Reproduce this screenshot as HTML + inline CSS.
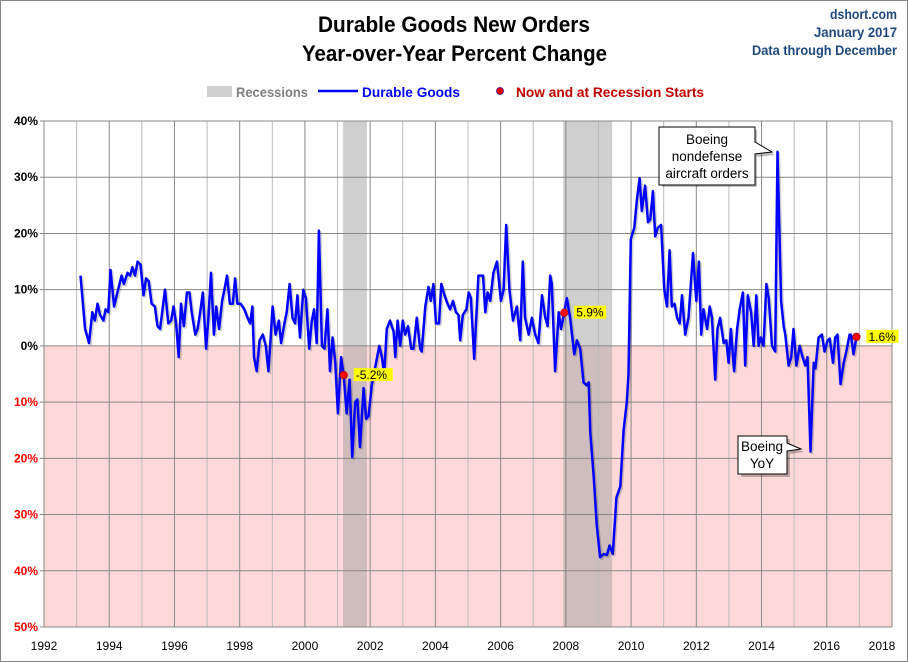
<!DOCTYPE html>
<html><head><meta charset="utf-8"><style>
body{margin:0;background:#fff;}
svg{display:block;font-family:"Liberation Sans Narrow","Liberation Sans",sans-serif;}
</style></head><body>
<svg id="chart" width="908" height="662" viewBox="0 0 908 662">
<rect x="0.5" y="0.5" width="907" height="661" fill="#fff" stroke="#888"/>
<g id="pink"></g>
<g id="rec"></g>
<g id="grid"></g>
<g id="series"></g>
<g id="axes"></g>
<text x="318" y="32" textLength="272" lengthAdjust="spacingAndGlyphs" font-size="22" font-weight="bold">Durable Goods New Orders</text>
<text x="302" y="61" textLength="305" lengthAdjust="spacingAndGlyphs" font-size="22" font-weight="bold">Year-over-Year Percent Change</text>
<g font-size="13.5" font-weight="bold" fill="#1F497D">
<text x="830" y="19" textLength="67" lengthAdjust="spacingAndGlyphs">dshort.com</text>
<text x="814" y="37" textLength="83" lengthAdjust="spacingAndGlyphs">January 2017</text>
<text x="752" y="55" textLength="145" lengthAdjust="spacingAndGlyphs">Data through December</text>
</g>
<g font-size="14" font-weight="bold">
<rect x="207" y="86" width="25" height="11" fill="#D0D0D0"/>
<text x="236" y="97" textLength="72" lengthAdjust="spacingAndGlyphs" fill="#808080">Recessions</text>
<line x1="318" y1="91" x2="358" y2="91" stroke="#0000FF" stroke-width="2.5"/>
<text x="362" y="97" textLength="98" lengthAdjust="spacingAndGlyphs" fill="#0000FF">Durable Goods</text>
<circle cx="500" cy="91" r="3.5" fill="#E00000" stroke="#400080" stroke-width="0.8"/>
<text x="516" y="97" textLength="188" lengthAdjust="spacingAndGlyphs" fill="#C00000">Now and at Recession Starts</text>
</g>
<g id="notes"></g>
</svg>
<script>
const years = [1993.12,1993.26,1993.38,1993.48,1993.56,1993.64,1993.72,1993.82,1993.89,1993.97,1994.04,1994.15,1994.25,1994.38,1994.45,1994.56,1994.64,1994.71,1994.79,1994.87,1994.96,1995.05,1995.13,1995.21,1995.30,1995.40,1995.48,1995.56,1995.71,1995.81,1995.90,1995.97,1996.05,1996.13,1996.20,1996.29,1996.38,1996.46,1996.53,1996.64,1996.71,1996.79,1996.87,1996.97,1997.04,1997.12,1997.21,1997.28,1997.37,1997.46,1997.53,1997.61,1997.70,1997.79,1997.86,1997.93,1998.03,1998.14,1998.24,1998.32,1998.39,1998.44,1998.52,1998.61,1998.71,1998.80,1998.88,1998.95,1999.01,1999.10,1999.20,1999.27,1999.37,1999.44,1999.53,1999.62,1999.70,1999.77,1999.85,1999.95,2000.03,2000.13,2000.21,2000.28,2000.36,2000.43,2000.52,2000.60,2000.69,2000.77,2000.85,2000.93,2001.01,2001.11,2001.19,2001.28,2001.37,2001.45,2001.54,2001.61,2001.69,2001.80,2001.88,2001.95,2002.05,2002.15,2002.28,2002.36,2002.43,2002.51,2002.61,2002.72,2002.77,2002.84,2002.92,2003.00,2003.07,2003.16,2003.26,2003.33,2003.43,2003.53,2003.58,2003.69,2003.79,2003.86,2003.94,2004.02,2004.11,2004.18,2004.28,2004.37,2004.45,2004.54,2004.63,2004.71,2004.76,2004.84,2004.95,2005.02,2005.09,2005.19,2005.32,2005.46,2005.53,2005.60,2005.68,2005.78,2005.89,2006.01,2006.09,2006.17,2006.27,2006.38,2006.50,2006.60,2006.68,2006.75,2006.86,2006.96,2007.06,2007.16,2007.27,2007.37,2007.44,2007.52,2007.57,2007.67,2007.78,2007.85,2007.95,2008.03,2008.13,2008.26,2008.34,2008.44,2008.54,2008.63,2008.70,2008.75,2008.85,2008.95,2009.05,2009.16,2009.26,2009.34,2009.44,2009.55,2009.67,2009.77,2009.87,2009.92,2009.99,2010.10,2010.18,2010.26,2010.33,2010.43,2010.52,2010.59,2010.67,2010.74,2010.82,2010.92,2011.02,2011.10,2011.18,2011.25,2011.33,2011.41,2011.49,2011.56,2011.66,2011.76,2011.90,2012.00,2012.08,2012.15,2012.22,2012.33,2012.41,2012.48,2012.58,2012.65,2012.73,2012.84,2012.92,2012.99,2013.06,2013.16,2013.25,2013.33,2013.43,2013.50,2013.58,2013.68,2013.76,2013.84,2013.91,2013.98,2014.06,2014.15,2014.22,2014.32,2014.42,2014.49,2014.60,2014.68,2014.73,2014.83,2014.91,2014.98,2015.07,2015.17,2015.26,2015.34,2015.41,2015.50,2015.60,2015.65,2015.75,2015.85,2015.93,2016.03,2016.09,2016.19,2016.26,2016.33,2016.42,2016.52,2016.60,2016.70,2016.74,2016.82,2016.91];
const values = [12.5,3,0.5,6,4.5,7.5,5.5,4.5,6.5,6,13.5,7,9.5,12.5,11,13,12.5,14,12.5,15,14.5,9,12,11.5,7.5,7,3.5,3,10,4,4.5,7,4,-2,7.5,3.5,9.5,9.5,6,2,3,6,9.5,-0.5,5,13,2,7,3,8,10,12.5,7.5,7.5,12,7.5,7.5,6.5,5,4,7,-2,-4.5,1,2,0,-4.5,1.5,7,2,4.5,0.5,4,6,11,5,4,9,1.5,10,8.5,-0.5,4.5,6.5,0.5,20.5,0,-0.5,6.5,-4.5,1.5,-3,-12,-2,-5.2,-12,-6,-19.8,-10,-9.5,-18,-7.5,-13,-12.5,-7,-4,0,-2,-5,3,4.5,2.5,-2,4.5,0,4.5,2,3.5,-0.5,-0.5,5,-0.5,-1,7,10.5,8,11,4,4,11,9,7.5,6.5,8,6,5.5,1,5.5,6.5,9.5,8.5,-2.3,12.5,12.5,6,9.5,8,13,15,8,10,21.5,10,4.5,7,1,15,5,2,5,2,0.5,9,5,3.5,12.5,11,-4.5,6,3,5.9,8.5,5,-1.5,1,-0.5,-6.5,-7,-6.5,-15.5,-23,-32,-37.6,-37,-37.2,-35.5,-37,-27,-25,-15,-10,-5,19,21,26,29.8,24,28.5,22,22.5,27.5,19.5,21,21.5,10,7,17,7,7.5,5,4,9,2,5,16.5,8,15,2,6.5,3,7,5,-6,3,5,0.5,1,-3,3,-4.5,3,6.5,9.5,-3.5,9,6,0,9,0,1.5,0,11,8.5,0,-1,34.5,8,3.5,2,-3.5,-2,3,-3.5,0,-2,-3.5,-2,-18.8,-3,-4,1.5,2,-1,1,1.3,-3,1.5,2,-6.8,-3,-1,2,2,-1.5,1.6];
const recStarts = [2001.17, 2007.92];
const recEnds = [2001.90, 2009.42];
const dotYears = [2001.19, 2007.95, 2016.91];
const dotValues = [-5.2, 5.9, 1.6];
const dotLabels = ["-5.2%", "5.9%", "1.6%"];
const yTicks = [40,30,20,10,0,-10,-20,-30,-40,-50];
const xTicks = [1992,1994,1996,1998,2000,2002,2004,2006,2008,2010,2012,2014,2016,2018];

const NS="http://www.w3.org/2000/svg";
const L=44,R=892,T=121,B=627;
const X=y=>L+(y-1992)/(2018-1992)*(R-L);
const Y=v=>T+(40-v)/90*(B-T);
function mk(tag,attrs,parent){const e=document.createElementNS(NS,tag);for(const k in attrs)e.setAttribute(k,attrs[k]);parent.appendChild(e);return e;}

const pink=document.getElementById('pink');
const pz=mk('rect',{x:L,y:Y(0),width:R-L,height:B-Y(0),fill:'#FFD9D9'},pink);



const rec=document.getElementById('rec');
recStarts.forEach((s,i)=>{
  const r=mk('rect',{x:X(s),y:T,width:X(recEnds[i])-X(s),height:B-T,fill:'#A0A0A0','fill-opacity':0.5},rec);
  
  
});

const grid=document.getElementById('grid');
for(let yr=1993;yr<=2018;yr++){
  const l=mk('line',{x1:X(yr),x2:X(yr),y1:T,y2:B,stroke:yr%2?'#BBBBBB':'#888888','stroke-width':1},grid);
  
  
}
yTicks.forEach(v=>{
  const l=mk('line',{x1:L-4,x2:R,y1:Y(v),y2:Y(v),stroke:'#888888','stroke-width':1},grid);
  
  
});

const axes=document.getElementById('axes');
const ya=mk('line',{x1:L,x2:L,y1:T,y2:B,stroke:'#888','stroke-width':1},axes);


yTicks.forEach(v=>{
  const t=mk('text',{x:38,y:Y(v)+4,'text-anchor':'end','font-size':12,'font-weight':'bold',fill:v<0?'#FF0000':'#000','font-family':'Liberation Sans, sans-serif'},axes);
  t.textContent=Math.abs(v)+'%';
  
  
});
xTicks.forEach(yr=>{
  const t=mk('text',{x:X(yr)-(yr===2018?10:0),y:650,'text-anchor':'middle','font-size':12,fill:'#000','font-family':'Liberation Sans, sans-serif'},axes);
  t.textContent=yr;
  
  
});

const ser=document.getElementById('series');
const pts=years.map((y,i)=>X(y).toFixed(1)+','+Y(values[i]).toFixed(1)).join(' ');
const sh=mk('polyline',{points:pts,fill:'none',stroke:'#000','stroke-opacity':0.18,'stroke-width':2.5,transform:'translate(1.5,1.5)','stroke-linejoin':'round'},ser);


const pl=mk('polyline',{points:pts,fill:'none',stroke:'#0000FF','stroke-width':2.5,'stroke-linejoin':'round'},ser);



dotYears.forEach((y,i)=>{
  const cx=X(y),cy=Y(dotValues[i]);
  const c=mk('circle',{cx:cx,cy:cy,r:3.8,fill:'#FF0000',stroke:'#A00000','stroke-width':0.6},ser);
  
  
  const w=dotLabels[i].length*7+4;
  const bx=cx+10;
  const b=mk('rect',{x:bx,y:cy-7,width:w,height:13,fill:'#FFFF00'},ser);
  
  
  const t=mk('text',{x:bx+2,y:cy+4,'font-size':12,'font-family':'Liberation Sans, sans-serif',fill:'#000'},ser);
  t.textContent=dotLabels[i];
  
  
});
</script>
<script>
(function(){
const NS="http://www.w3.org/2000/svg";
const notes=document.getElementById('notes');
function mk(tag,attrs,parent){const e=document.createElementNS(NS,tag);for(const k in attrs)e.setAttribute(k,attrs[k]);parent.appendChild(e);return e;}
const g1=mk('g',{},notes);


mk('path',{d:'M660,128 H755 V143 L773,153 L755,155 V185 H660 Z',fill:'#000','fill-opacity':0.25,transform:'translate(2,2)'},g1);
mk('path',{d:'M659,127 H755 V142 L772,152 L755,154 V185 H659 Z',fill:'#fff',stroke:'#000','stroke-width':1},g1);
[['Boeing',144],['nondefense',161],['aircraft orders',178]].forEach(a=>{
  const t=mk('text',{x:707,y:a[1],'text-anchor':'middle','font-size':13.5,'font-family':'Liberation Sans, sans-serif'},g1);
  t.textContent=a[0];
  
  
});
const g2=mk('g',{},notes);


mk('path',{d:'M739,437 H788 V444 L802,450 L788,452 V475 H739 Z',fill:'#000','fill-opacity':0.25,transform:'translate(2,2)'},g2);
mk('path',{d:'M738,436 H787 V443 L801,449 L787,451 V474 H738 Z',fill:'#fff',stroke:'#000','stroke-width':1},g2);
[['Boeing',451],['YoY',468]].forEach(a=>{
  const t=mk('text',{x:762,y:a[1],'text-anchor':'middle','font-size':13.5,'font-family':'Liberation Sans, sans-serif'},g2);
  t.textContent=a[0];
  
  
});
})();
</script>
</body></html>
